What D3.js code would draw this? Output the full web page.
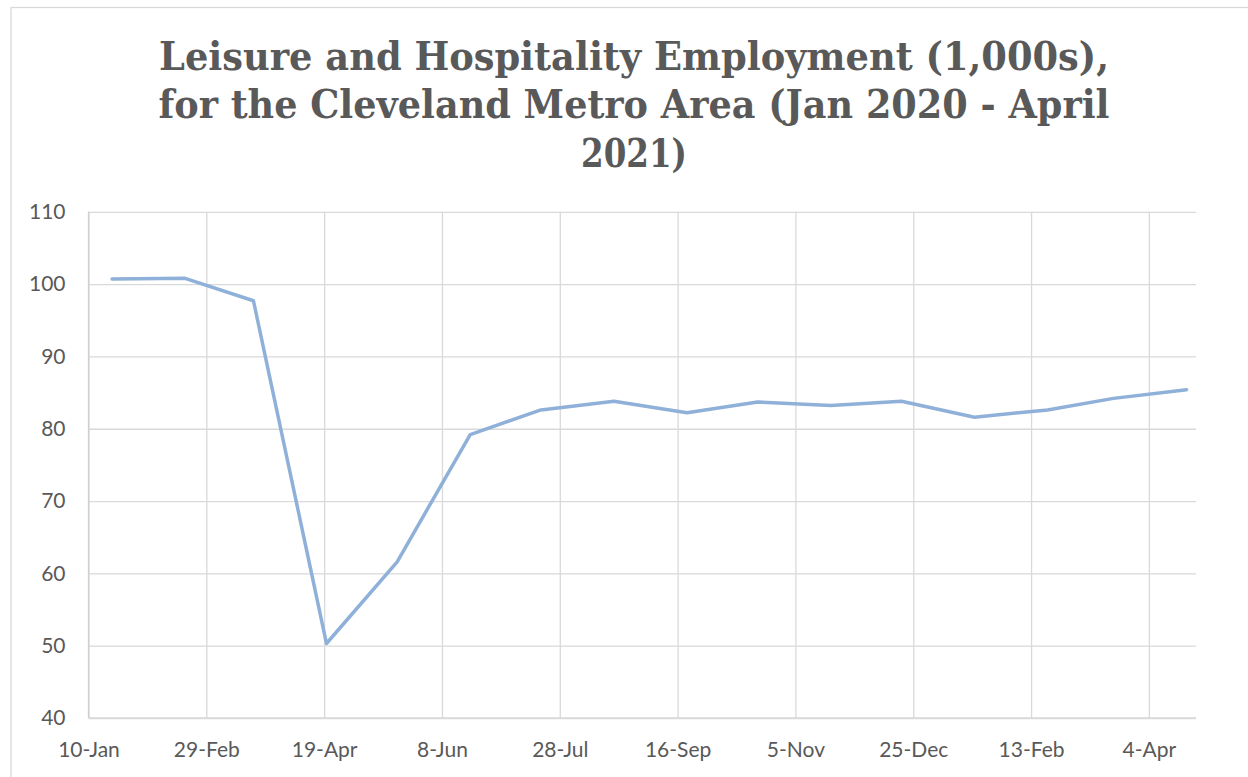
<!DOCTYPE html>
<html>
<head>
<meta charset="utf-8">
<script src="https://cdn.jsdelivr.net/npm/d3@7"></script>
<style>
  body { margin: 0; background: #fff; }
  svg { display: block; }
  .tick text { font-family: Lato, "Open Sans", sans-serif; font-size: 21px; fill: #595959; }
</style>
</head>
<body>
<svg id="chart" width="1248" height="777"></svg>
<script>
// Data (monthly, plotted on the 20th)
const months = ["2020-01-20","2020-02-20","2020-03-20","2020-04-20","2020-05-20","2020-06-20",
  "2020-07-20","2020-08-20","2020-09-20","2020-10-20","2020-11-20","2020-12-20",
  "2021-01-20","2021-02-20","2021-03-20","2021-04-20"];
const employment = [100.7, 100.8, 97.7, 50.3, 61.6, 79.2, 82.6, 83.8, 82.2, 83.7, 83.2, 83.8, 81.6, 82.6, 84.2, 85.4];
const yTicks = [40, 50, 60, 70, 80, 90, 100, 110];
const xTickDates = ["2020-01-10","2020-02-29","2020-04-19","2020-06-08","2020-07-28","2020-09-16",
  "2020-11-05","2020-12-25","2021-02-13","2021-04-04"];
const titleLines = ["Leisure and Hospitality Employment (1,000s),",
  "for the Cleveland Metro Area (Jan 2020 - April", "2021)"];

const parse = d3.utcParse("%Y-%m-%d");
const points = months.map((m, i) => ({ date: parse(m), value: employment[i] }));

const svg = d3.select('#chart');
const plot = { left: 88.5, right: 1196, top: 211.8, bottom: 718 };

// chart frame
svg.append('rect')
  .attr('x', 11).attr('y', 7.5)
  .attr('width', 1300).attr('height', 800)
  .attr('fill', 'none')
  .attr('stroke', '#d9d9d9')
  .attr('stroke-width', 1.3);

// title
const titleWidths = [950, 951, 106];
const title = svg.append('g')
  .attr('font-family', '"DejaVu Serif Condensed", "DejaVu Serif", serif')
  .attr('font-stretch', 'condensed')
  .attr('font-weight', 'bold')
  .attr('font-size', 40)
  .attr('fill', '#595959')
  .attr('text-anchor', 'middle');
titleLines.forEach((line, i) => {
  title.append('text')
    .attr('x', 634)
    .attr('y', 69.5 + i * 48.5)
    .attr('textLength', titleWidths[i])
    .attr('lengthAdjust', 'spacingAndGlyphs')
    .text(line);
});

// scales
const x = d3.scaleUtc()
  .domain([parse("2020-01-10"), parse("2021-04-24")])
  .range([plot.left, plot.right]);
const y = d3.scaleLinear()
  .domain([40, 110])
  .range([plot.bottom, plot.top]);

// horizontal gridlines + y labels
const yAxis = svg.append('g')
  .attr('transform', `translate(${plot.left},0)`)
  .call(d3.axisLeft(y)
    .tickValues(yTicks)
    .tickSize(-(plot.right - plot.left))
    .tickPadding(23));
yAxis.select('.domain').remove();
yAxis.selectAll('.tick line').attr('stroke', '#d9d9d9').attr('stroke-width', 1.3);

// vertical gridlines + x labels
const xAxis = svg.append('g')
  .attr('transform', `translate(0,${plot.bottom})`)
  .call(d3.axisBottom(x)
    .tickValues(xTickDates.map(parse))
    .tickFormat(d3.utcFormat("%-d-%b"))
    .tickSize(-(plot.bottom - plot.top)));
xAxis.select('.domain').remove();
xAxis.selectAll('.tick line').attr('stroke', '#d9d9d9').attr('stroke-width', 1.3);
xAxis.selectAll('.tick text').attr('y', 39).attr('dy', 0);

// axis lines
svg.append('line')
  .attr('x1', plot.left).attr('x2', plot.left)
  .attr('y1', plot.top).attr('y2', plot.bottom)
  .attr('stroke', '#d0d0d0').attr('stroke-width', 1.3);
svg.append('line')
  .attr('x1', plot.left).attr('x2', plot.right)
  .attr('y1', plot.bottom).attr('y2', plot.bottom)
  .attr('stroke', '#d9d9d9').attr('stroke-width', 1.3);

// data line
const line = d3.line()
  .x(d => x(d.date))
  .y(d => y(d.value));
svg.append('path')
  .datum(points)
  .attr('d', line)
  .attr('fill', 'none')
  .attr('stroke', '#8fb0d8')
  .attr('stroke-width', 3.5)
  .attr('stroke-linejoin', 'round')
  .attr('stroke-linecap', 'round');
</script>
</body>
</html>
